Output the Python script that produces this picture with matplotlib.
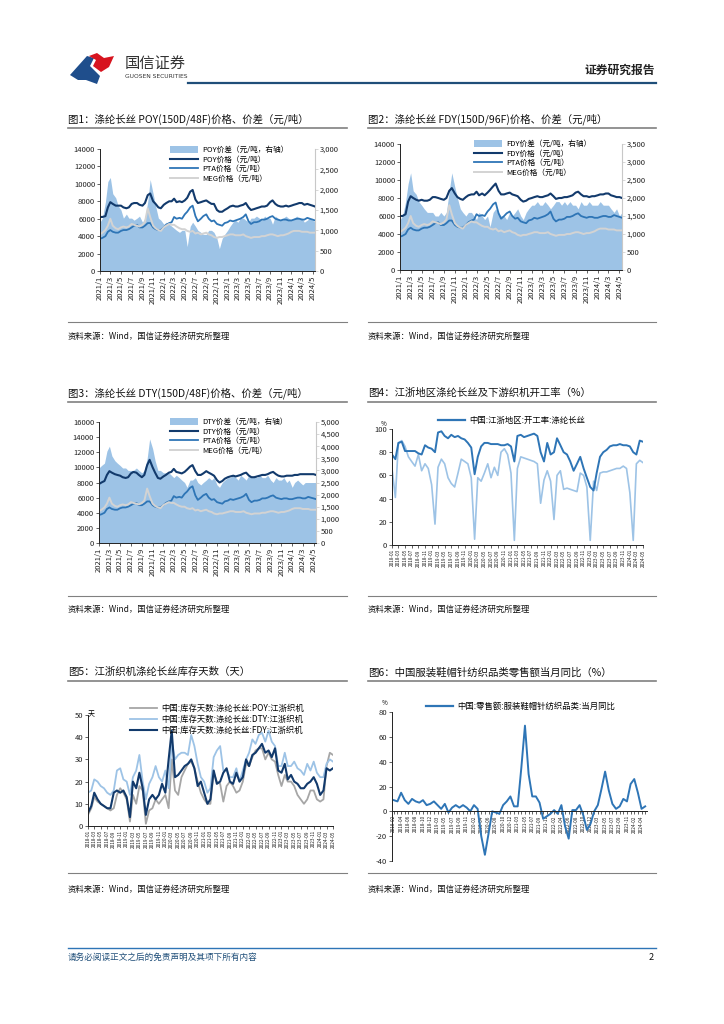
import matplotlib
matplotlib.use('Agg')
import matplotlib.pyplot as plt
import numpy as np
import pandas as pd
from matplotlib.patches import Polygon, Patch
from matplotlib.lines import Line2D
from matplotlib.ticker import FuncFormatter

plt.rcParams['font.family'] = ['Noto Sans CJK SC', 'DejaVu Sans']
plt.rcParams['axes.unicode_minus'] = False

# ---------------- DATA ----------------
# Charts 1-3: semi-monthly samples, 2021-01 .. 2024-05
pta_price = [3700, 3800, 4000, 4500, 4700, 4500, 4400, 4400, 4600, 4700, 4700, 4800, 5000, 5200, 5300, 5000,
             5000, 5200, 5500, 5500, 5000, 4800, 4700, 4700, 5000, 5300, 5500, 5600, 6200, 6000, 6100, 6000,
             6500, 6800, 7300, 7500, 6300, 5700, 6000, 6300, 6500, 6000, 5700, 5800, 5400, 5300, 5200, 5500,
             5600, 5800, 5700, 5800, 5900, 6000, 6200, 6500, 5700, 5400, 5600, 5600, 5700, 5900, 5900, 6000,
             6200, 6300, 6000, 5900, 5800, 5900, 5900, 5800, 5800, 5900, 6000, 6000, 5900, 5900, 6100, 6000,
             5900, 5800]
meg_price = [4200, 4400, 4700, 5200, 6000, 5200, 4900, 4800, 5000, 5100, 5000, 5100, 5400, 5300, 5200, 5100,
             5300, 5600, 7200, 6200, 5200, 4900, 4700, 4600, 5000, 5200, 5400, 5300, 5300, 5100, 4900, 4800,
             4800, 4600, 4500, 4600, 4300, 4400, 4200, 4300, 4400, 4200, 4100, 3900, 3800, 3900, 3900, 4000,
             4100, 4200, 4200, 4100, 4100, 4100, 4200, 4000, 3900, 3800, 3900, 3900, 3900, 4000, 4000, 4100,
             4200, 4200, 4100, 4000, 4100, 4100, 4200, 4300, 4500, 4600, 4600, 4600, 4500, 4500, 4500, 4400,
             4400, 4400]
poy_price = [6200, 6200, 6300, 7300, 7900, 7700, 7500, 7500, 7500, 7300, 7200, 7300, 7700, 7800, 7800, 7600,
             7500, 7800, 8700, 8900, 8000, 7700, 7300, 7200, 7600, 7800, 8000, 8000, 8300, 7900, 8000, 7900,
             8100, 8400, 9100, 9300, 8200, 7800, 7900, 8000, 8100, 7900, 7700, 7700, 7000, 6800, 6800, 7000,
             7200, 7400, 7500, 7400, 7400, 7500, 7600, 7800, 7300, 7000, 7100, 7200, 7300, 7400, 7400, 7500,
             7900, 8100, 7700, 7500, 7400, 7400, 7500, 7400, 7500, 7600, 7700, 7800, 7800, 7600, 7700, 7600,
             7500, 7400]
poy_spread = [1200, 1300, 1700, 2200, 2300, 1900, 1800, 1600, 1500, 1300, 1400, 1300, 1300, 1250, 1300, 1350,
              1200, 1300, 1700, 2250, 1900, 1600, 1300, 1250, 1150, 1200, 1150, 1100, 1050, 1000, 950, 1000,
              1000, 600, 1100, 1200, 1100, 1000, 950, 900, 900, 1000, 1000, 950, 800, 550, 800, 900,
              1000, 1100, 1200, 1250, 1200, 1300, 1300, 1250, 1200, 1300, 1300, 1350, 1300, 1250, 1350, 1300,
              1300, 1150, 1350, 1300, 1250, 1300, 1350, 1300, 1250, 1300, 1350, 1300, 1300, 1200, 1250, 1300,
              1250, 1200]
fdy_price = [6000, 6000, 6200, 7600, 8200, 8000, 7800, 7700, 7800, 7700, 7700, 7800, 8100, 8100, 8000, 7900,
             7800, 8000, 8800, 9100, 8500, 8100, 7900, 7800, 8100, 8300, 8400, 8400, 8700, 8300, 8500, 8300,
             8600, 8900, 9300, 9600, 8800, 8400, 8400, 8500, 8600, 8400, 8300, 8200, 7800, 7600, 7700, 7900,
             8000, 8100, 8200, 8100, 8100, 8200, 8300, 8500, 8200, 7900, 8000, 8000, 8100, 8100, 8200, 8300,
             8600, 8700, 8400, 8200, 8200, 8100, 8200, 8200, 8300, 8400, 8400, 8500, 8500, 8300, 8200, 8100,
             8100, 8000]
fdy_spread = [1400, 1500, 1900, 2400, 2700, 2200, 2100, 1900, 1800, 1700, 1600, 1600, 1600, 1500, 1500, 1600,
              1500, 1600, 2200, 2700, 2300, 2000, 1700, 1600, 1500, 1600, 1600, 1500, 1400, 1600, 1500, 1400,
              1500, 1200, 1600, 1700, 1600, 1500, 1500, 1400, 1600, 1500, 1600, 1700, 1500, 1400, 1600, 1700,
              1800, 1800, 1900, 1800, 1800, 1900, 1800, 1700, 1800, 1900, 1900, 1800, 1900, 1800, 1900, 1800,
              1800, 1700, 1900, 1800, 1800, 1900, 1800, 1800, 1800, 1900, 1800, 1800, 1800, 1700, 1600, 1700,
              1500, 1600]
dty_price = [7800, 8000, 8200, 9000, 9500, 9300, 9100, 9000, 8900, 8700, 8600, 8700, 9200, 9400, 9300, 9000,
             8700, 9000, 10300, 11000, 10000, 9300, 8600, 8500, 8800, 9000, 9300, 9400, 9800, 9400, 9300, 9200,
             9400, 9700, 10100, 10300, 9500, 9000, 9000, 9200, 9500, 9300, 9100, 8900, 8300, 8000, 8200, 8500,
             8700, 8800, 8900, 8800, 8900, 9000, 9200, 9300, 8900, 8700, 8700, 8800, 8900, 9000, 9000, 9100,
             9300, 9400, 9100, 8900, 8800, 8800, 8900, 8900, 8900, 9000, 9000, 9100, 9100, 9100, 9100, 9100,
             9100, 9000]
dty_spread = [3100, 3200, 3300, 3800, 4000, 3600, 3400, 3300, 3200, 3100, 3100, 3000, 3000, 3000, 3100, 3000,
              2900, 3000, 3500, 4300, 3900, 3400, 3000, 3000, 2900, 2900, 2900, 2800, 2700, 2800, 2700, 2600,
              2500, 2300, 2600, 2600, 2700, 2500, 2400, 2500, 2600, 2700, 2600, 2700, 2400, 2300, 2500, 2600,
              2700, 2700, 2800, 2700, 2600, 2800, 2700, 2600, 2800, 2700, 2800, 2700, 2800, 2700, 2700, 2800,
              2600, 2500, 2700, 2600, 2600, 2700, 2500, 2600, 2300, 2500, 2600, 2500, 2400, 2500, 2500, 2500,
              2500, 2500]

# Chart 4: monthly operating rates, 2018-01 .. 2024-05 (%)
filament_rate = [78, 74, 88, 89, 81, 81, 81, 81, 79, 78, 86, 84,
                 83, 80, 97, 98, 94, 92, 95, 93, 94, 92, 91, 88,
                 84, 61, 76, 85, 88, 88, 87, 87, 87, 86, 86, 87,
                 85, 72, 94, 95, 93, 94, 95, 96, 94, 80, 72, 88,
                 78, 80, 92, 86, 80, 78, 72, 64, 70, 76, 66, 58,
                 50, 47, 62, 76, 80, 82, 85, 86, 86, 87, 86, 86,
                 85, 80, 78, 90, 89]
loom_rate = [66, 41, 88, 90, 85, 76, 72, 68, 78, 64, 70, 66,
             52, 18, 67, 74, 70, 58, 53, 50, 62, 74, 72, 70,
             58, 5, 58, 55, 62, 70, 58, 67, 60, 80, 83, 78,
             62, 4, 66, 76, 75, 74, 73, 72, 70, 36, 56, 64,
             55, 22, 60, 64, 48, 49, 48, 47, 46, 62, 60, 50,
             4, 55, 47, 62, 63, 63, 64, 65, 66, 66, 68, 66,
             45, 4, 70, 73, 71]

# Chart 5: monthly inventory days, 2018-01 .. 2024-05
inv_poy = [5, 8, 13, 11, 10, 9, 8, 7, 8, 14, 17, 15,
           12, 2, 14, 10, 18, 16, 1, 7, 8, 12, 10, 12,
           14, 8, 30, 16, 14, 22, 25, 28, 29, 26, 20, 15,
           12, 10, 10, 24, 20, 19, 11, 18, 20, 18, 15, 16,
           20, 28, 27, 31, 34, 35, 35, 30, 33, 30, 29, 23,
           18, 23, 20, 20, 18, 14, 12, 10, 12, 16, 16, 12,
           11, 12, 27, 33, 32]
inv_dty = [15, 16, 21, 20, 18, 17, 15, 14, 16, 25, 26, 21,
           20, 14, 22, 25, 32, 20, 12, 19, 22, 27, 22, 20,
           25, 17, 38, 30, 32, 33, 33, 32, 41, 36, 28, 22,
           20, 15, 17, 31, 34, 36, 25, 25, 22, 22, 26, 20,
           25, 30, 33, 39, 37, 41, 42, 38, 43, 38, 36, 27,
           27, 33, 27, 27, 29, 26, 25, 23, 28, 25, 29, 24,
           22, 22, 28, 30, 29]
inv_fdy = [6, 9, 15, 12, 10, 9, 8, 8, 15, 16, 15, 16,
           13, 4, 20, 17, 24, 17, 5, 12, 14, 12, 14, 19,
           15, 30, 43, 22, 23, 25, 27, 28, 30, 26, 18, 20,
           15, 10, 12, 25, 19, 20, 24, 26, 20, 19, 24, 20,
           22, 30, 27, 32, 33, 35, 37, 33, 34, 31, 35, 25,
           24, 28, 21, 23, 20, 19, 17, 17, 19, 20, 22, 19,
           14, 16, 26, 25, 26]

# Chart 6: monthly retail sales YoY (%), clothing/shoes/hats/textiles
retail_yoy = [9, 8, 15, 9, 6, 10, 8, 7, 9, 5,
              6, 8, 5, 2, 6, -1, 3, 5, 3, 5,
              3, 0, 5, 2, -20, -35, -18, 0, -1, -2,
              5, 8, 12, 4, 4, 35, 69, 30, 12, 12,
              7, -6, -4, -2, 1, -2, 5, -12, -22, 1,
              1, 5, -3, -15, -10, 0, 5, 18, 32, 17,
              6, 2, 4, 10, 8, 22, 26, 15, 2, 4]

price_dates = pd.date_range('2021-01-01', periods=len(poy_price), freq='SMS')
month_dates = pd.date_range('2018-01-01', periods=len(filament_rate), freq='MS')
inv_dates = pd.date_range('2018-01-01', periods=len(inv_poy), freq='MS')
_all = pd.date_range('2018-02-01', '2024-12-01', freq='MS')
retail_months = [d for d in _all if d.month != 1][:len(retail_yoy)]
retail_labels = [d.strftime('%Y-%m') for d in retail_months]

# ---------------- STYLE ----------------
C_SPREAD = '#9dc3e6'
C_NAVY = '#123a6c'
C_MID = '#2e75b6'
C_GRAY = '#d3d3d3'
C_LIGHT = '#9dc3e6'
C_POYGRAY = '#a6a6a6'

W, H = 724, 1024
fig = plt.figure(figsize=(7.24, 10.24), dpi=100)


def rect(x0, y0, x1, y1):
    return [x0 / W, 1 - y1 / H, (x1 - x0) / W, (y1 - y0) / H]


def fx(x):
    return x / W


def fy(y):
    return 1 - y / H


def hline(x0, x1, y, color, lw):
    fig.add_artist(Line2D([fx(x0), fx(x1)], [fy(y), fy(y)], color=color, lw=lw,
                          transform=fig.transFigure))


# ---------------- HEADER ----------------
blue_logo = Polygon([(fx(70), fy(75)), (fx(87), fy(56)), (fx(94), fy(58)), (fx(90), fy(66)),
                     (fx(100), fy(76)), (fx(97), fy(84)), (fx(86), fy(80)), (fx(78), fy(80))],
                    closed=True, transform=fig.transFigure, color='#1f4e8c', lw=0)
red_logo = Polygon([(fx(89), fy(56)), (fx(97), fy(53)), (fx(104), fy(58)), (fx(114), fy(56)),
                    (fx(109), fy(67)), (fx(101), fy(72)), (fx(93), fy(66)), (fx(96), fy(60))],
                   closed=True, transform=fig.transFigure, color='#d7141f', lw=0)
fig.add_artist(blue_logo)
fig.add_artist(red_logo)
fig.text(fx(125), fy(63), '国信证券', fontsize=11, color='#333333', va='center', ha='left')
fig.text(fx(125), fy(77), 'GUOSEN SECURITIES', fontsize=4.3, color='#333333', va='center', ha='left',
         family=['DejaVu Sans'])
fig.text(fx(655), fy(70), '证券研究报告', fontsize=8.5, fontweight='bold', color='#222222',
         va='center', ha='right')
hline(188, 656, 83, '#1f4e79', 1.6)

# ---------------- TITLES / SOURCES ----------------
titles = [
    (68, 119, 128, 347, '图1：涤纶长丝 POY(150D/48F)价格、价差（元/吨）'),
    (368, 119, 128, 656, '图2：涤纶长丝 FDY(150D/96F)价格、价差（元/吨）'),
    (68, 393, 402, 347, '图3：涤纶长丝 DTY(150D/48F)价格、价差（元/吨）'),
    (368, 393, 402, 656, '图4：江浙地区涤纶长丝及下游织机开工率（%）'),
    (68, 672, 681, 347, '图5：江浙织机涤纶长丝库存天数（天）'),
    (368, 672, 681, 656, '图6：中国服装鞋帽针纺织品类零售额当月同比（%）'),
]
for x0, yt, yl, x1, t in titles:
    fig.text(fx(x0), fy(yt), t, fontsize=7.5, color='#111111', va='center', ha='left')
    hline(x0, x1, yl, '#808080', 1.2)

for x0, x1, yl, yt in [(68, 347, 322, 336), (368, 656, 322, 336), (68, 347, 596, 609),
                       (368, 656, 596, 609), (68, 347, 873, 889), (368, 656, 873, 889)]:
    hline(x0, x1, yl, '#808080', 0.8)
    fig.text(fx(x0), fy(yt), '资料来源：Wind，国信证券经济研究所整理', fontsize=6, color='#111111',
             va='center', ha='left')

# ---------------- FOOTER ----------------
hline(68, 656, 948, '#2e75b6', 1.0)
fig.text(fx(68), fy(957), '请务必阅读正文之后的免责声明及其项下所有内容', fontsize=6.2, color='#1f4e79',
         style='italic', va='center', ha='left')
fig.text(fx(654), fy(957), '2', fontsize=6.5, color='#111111', va='center', ha='right')


# ---------------- PANELS 1-3 ----------------
def style_basic(ax, size=5.5):
    ax.spines['top'].set_visible(False)
    ax.spines['right'].set_visible(False)
    for s in ['left', 'bottom']:
        ax.spines[s].set_linewidth(0.7)
        ax.spines[s].set_color('#222222')
    ax.tick_params(labelsize=size, length=2, width=0.5, pad=1.5, colors='#222222')


def price_panel(box, price, spread, name, lmax, lstep, rmax, rstep, leg_xy):
    ax = fig.add_axes(rect(*box))
    ax2 = ax.twinx()
    ax2.fill_between(price_dates, 0, spread, color=C_SPREAD, lw=0)
    ax.plot(price_dates, price, color=C_NAVY, lw=1.5)
    ax.plot(price_dates, pta_price, color=C_MID, lw=1.3)
    ax.plot(price_dates, meg_price, color=C_GRAY, lw=1.4)
    ax.set_zorder(2)
    ax2.set_zorder(1)
    ax.patch.set_visible(False)
    ax.set_ylim(0, lmax)
    ax.set_yticks(np.arange(0, lmax + 1, lstep))
    ax2.set_ylim(0, rmax)
    ax2.set_yticks(np.arange(0, rmax + 1, rstep))
    ax2.yaxis.set_major_formatter(FuncFormatter(lambda v, p: f'{v:,.0f}'))
    ax.set_xlim(price_dates[0], price_dates[-1])
    ticks = pd.date_range('2021-01-01', '2024-05-01', freq='2MS')
    ax.set_xticks(ticks)
    ax.set_xticklabels([f'{d.year}/{d.month}' for d in ticks], rotation=90)
    style_basic(ax)
    for s in ['top', 'left', 'bottom']:
        ax2.spines[s].set_visible(False)
    ax2.spines['right'].set_color('#c8c8c8')
    ax2.spines['right'].set_linewidth(0.8)
    ax2.tick_params(labelsize=5.5, length=2, width=0.5, pad=1.5, colors='#222222')
    ax2.tick_params(axis='y', color='#c8c8c8')
    handles = [Patch(color=C_SPREAD, lw=0), Line2D([], [], color=C_NAVY, lw=1.5),
               Line2D([], [], color=C_MID, lw=1.3), Line2D([], [], color=C_GRAY, lw=1.4)]
    labels = [f'{name}价差（元/吨，右轴）', f'{name}价格（元/吨）', 'PTA价格（元/吨）', 'MEG价格（元/吨）']
    ax.legend(handles, labels, loc='upper left', bbox_to_anchor=(fx(leg_xy[0]), fy(leg_xy[1])),
              bbox_transform=fig.transFigure, frameon=False, fontsize=5.5, handlelength=3.6,
              handleheight=0.9, labelspacing=0.2, borderaxespad=0, borderpad=0, handletextpad=0.6)
    return ax


price_panel((100, 149, 315, 271), poy_price, poy_spread, 'POY', 14000, 2000, 3000, 500, (170, 146))
price_panel((400, 144, 622, 270), fdy_price, fdy_spread, 'FDY', 14000, 2000, 3500, 500, (474, 140))
price_panel((99, 422, 316, 543), dty_price, dty_spread, 'DTY', 16000, 2000, 5000, 500, (170, 418))

# ---------------- PANEL 4 ----------------
ax4 = fig.add_axes(rect(392, 429, 643, 545))
ax4.plot(month_dates, loom_rate, color=C_LIGHT, lw=1.2)
ax4.plot(month_dates, filament_rate, color=C_MID, lw=1.4)
ax4.set_ylim(0, 100)
ax4.set_yticks(np.arange(0, 101, 20))
ax4.set_xlim(month_dates[0], month_dates[-1])
t4 = pd.date_range('2018-01-01', '2024-05-01', freq='2MS')
ax4.set_xticks(t4)
ax4.set_xticklabels([d.strftime('%Y-%m') for d in t4], rotation=90)
style_basic(ax4)
ax4.tick_params(axis='x', labelsize=3.4, pad=1)
ax4.legend([Line2D([], [], color=C_MID, lw=1.6)], ['中国:江浙地区:开工率:涤纶长丝'], loc='upper left',
           bbox_to_anchor=(fx(438), fy(416)), bbox_transform=fig.transFigure, frameon=False,
           fontsize=6, handlelength=3.2, borderaxespad=0, borderpad=0, handletextpad=0.5)
fig.text(fx(384), fy(424), '%', fontsize=4.5, ha='center', va='center')

# ---------------- PANEL 5 ----------------
ax5 = fig.add_axes(rect(88, 715, 333, 826))
l_poy, = ax5.plot(inv_dates, inv_poy, color=C_POYGRAY, lw=1.3)
l_dty, = ax5.plot(inv_dates, inv_dty, color=C_LIGHT, lw=1.3)
l_fdy, = ax5.plot(inv_dates, inv_fdy, color=C_NAVY, lw=1.5)
ax5.set_ylim(0, 50)
ax5.set_yticks(np.arange(0, 51, 10))
ax5.set_xlim(inv_dates[0], inv_dates[-1])
t5 = pd.date_range('2018-01-01', '2024-05-01', freq='2MS')
ax5.set_xticks(t5)
ax5.set_xticklabels([d.strftime('%Y-%m') for d in t5], rotation=90)
style_basic(ax5)
ax5.tick_params(axis='x', labelsize=3.4, pad=1)
ax5.legend([l_poy, l_dty, l_fdy],
           ['中国:库存天数:涤纶长丝:POY:江浙织机', '中国:库存天数:涤纶长丝:DTY:江浙织机',
            '中国:库存天数:涤纶长丝:FDY:江浙织机'],
           loc='upper left', bbox_to_anchor=(fx(130), fy(704)), bbox_transform=fig.transFigure,
           frameon=False, fontsize=6, handlelength=3.2, labelspacing=0.25, borderaxespad=0,
           borderpad=0, handletextpad=0.5)
fig.text(fx(88), fy(714), '天', fontsize=5, ha='left', va='center')

# ---------------- PANEL 6 ----------------
ax6 = fig.add_axes(rect(392, 712, 647, 861))
style_basic(ax6)
ax6.spines['bottom'].set_position(('data', 0))
xi = np.arange(len(retail_yoy))
ax6.plot(xi, retail_yoy, color=C_MID, lw=1.4)
ax6.set_ylim(-40, 80)
ax6.set_yticks(np.arange(-40, 81, 20))
ax6.set_xlim(-0.5, len(retail_yoy) - 0.5)
ax6.set_xticks(xi)
ax6.set_xticklabels([lab if i % 2 == 0 else '' for i, lab in enumerate(retail_labels)])
ax6.tick_params(axis='both', labelsize=5.5, length=2, width=0.5, pad=1.5, colors='#222222')
ax6.tick_params(axis='x', labelsize=3.4, pad=1, length=1.8, labelrotation=90)
ax6.legend([Line2D([], [], color=C_MID, lw=1.6)], ['中国:零售额:服装鞋帽针纺织品类:当月同比'],
           loc='upper left', bbox_to_anchor=(fx(426), fy(702)), bbox_transform=fig.transFigure,
           frameon=False, fontsize=6, handlelength=3.2, borderaxespad=0, borderpad=0, handletextpad=0.5)
fig.text(fx(385), fy(703), '%', fontsize=4.5, ha='center', va='center')

fig.savefig('out.png', dpi=100)
